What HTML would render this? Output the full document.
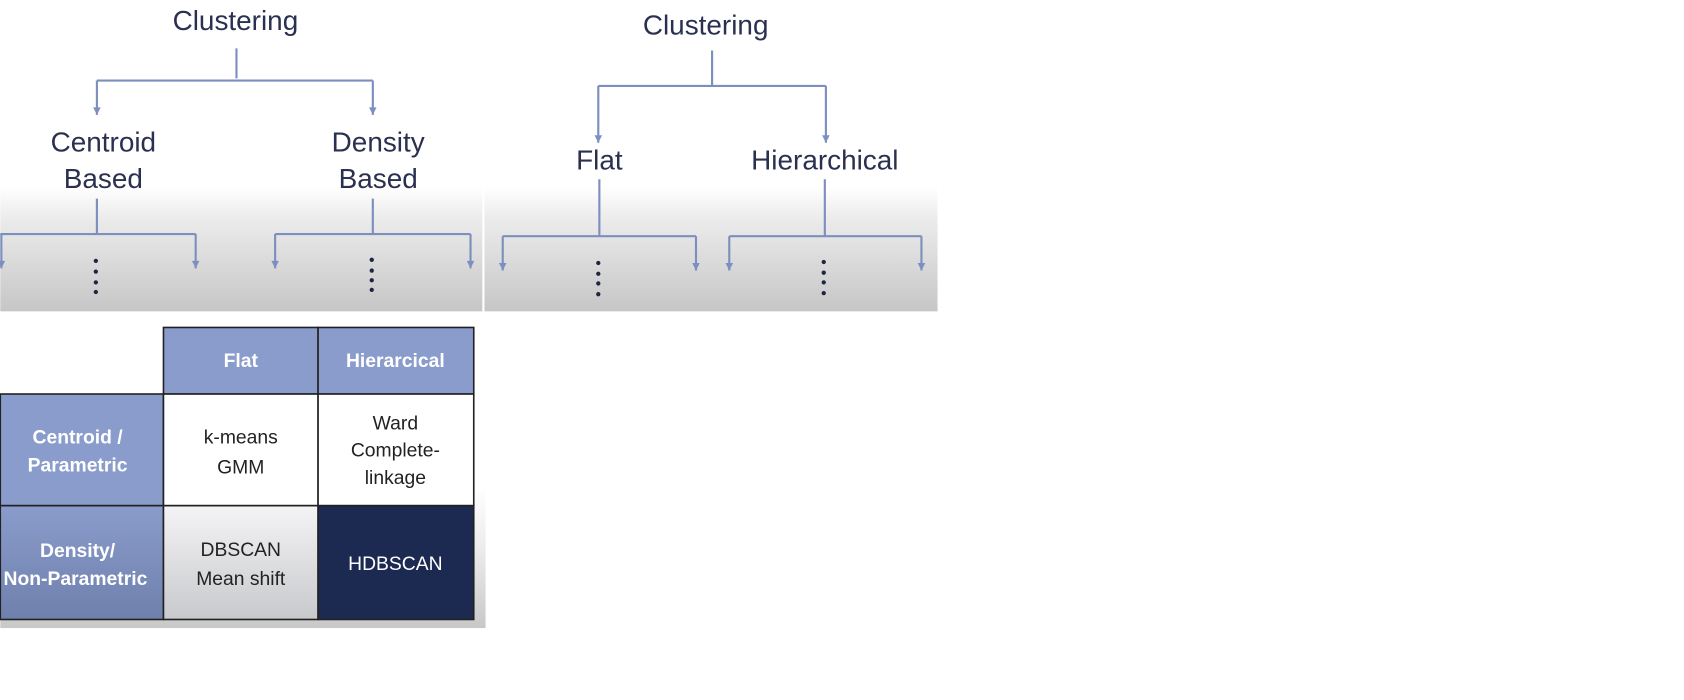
<!DOCTYPE html>
<html><head><meta charset="utf-8"><style>
html,body{margin:0;padding:0;background:#fff;width:1684px;height:700px;overflow:hidden}
svg{display:block}
text{font-family:"Liberation Sans",sans-serif}
</style></head><body>
<svg width="1684" height="700" viewBox="0 0 1568 652" xmlns="http://www.w3.org/2000/svg">
<defs>
<linearGradient id="g1" x1="0" y1="0" x2="0" y2="1">
<stop offset="0" stop-color="#fff"/><stop offset="0.6" stop-color="#fff"/><stop offset="0.7" stop-color="#ececec"/><stop offset="1" stop-color="#c6c6c6"/>
</linearGradient>
<linearGradient id="g2" x1="0" y1="0" x2="0" y2="1">
<stop offset="0" stop-color="#fff"/><stop offset="0.55" stop-color="#fff"/><stop offset="0.75" stop-color="#ececec"/><stop offset="1" stop-color="#c8c8c8"/>
</linearGradient>
<linearGradient id="g3" x1="0" y1="0" x2="0" y2="1">
<stop offset="0" stop-color="#f4f4f6"/><stop offset="1" stop-color="#c8c9cc"/>
</linearGradient>
<linearGradient id="g4" x1="0" y1="0" x2="0" y2="1">
<stop offset="0" stop-color="#8a9ccb"/><stop offset="1" stop-color="#6f80ad"/>
</linearGradient>
<marker id="a" viewBox="0 0 10 10" refX="10" refY="5" markerWidth="8" markerHeight="7" orient="auto" markerUnits="userSpaceOnUse">
<path d="M0,0 L10,5 L0,10 z" fill="#7d8fbe"/></marker>
</defs>
<rect x="0" y="0" width="449" height="290" fill="url(#g1)"/>
<rect x="451" y="0" width="422" height="290" fill="url(#g1)"/>
<rect x="0" y="291" width="452" height="294" fill="url(#g2)"/>
<g stroke="#7d8fbe" stroke-width="2" fill="none">
<path d="M220,45V73M90,75H347"/>
<path d="M90,75V107" marker-end="url(#a)"/><path d="M347,75V107" marker-end="url(#a)"/>
<path d="M90,185V218M0,218H182M256,218H438M347,185V218"/>
<path d="M1,218V250" marker-end="url(#a)"/><path d="M182,218V250" marker-end="url(#a)"/>
<path d="M256,218V250" marker-end="url(#a)"/><path d="M438,218V250" marker-end="url(#a)"/>
<path d="M663,47V79M557,80H769"/>
<path d="M557,80V133" marker-end="url(#a)"/><path d="M769,80V133" marker-end="url(#a)"/>
<path d="M558,167V220M468,220H648M768,167V220M679,220H858"/>
<path d="M468,220V252" marker-end="url(#a)"/><path d="M648,220V252" marker-end="url(#a)"/>
<path d="M679,220V252" marker-end="url(#a)"/><path d="M858,220V252" marker-end="url(#a)"/>
</g>
<g fill="#1f2540">
<circle cx="89" cy="243" r="2"/><circle cx="89" cy="253" r="2"/><circle cx="89" cy="263" r="2"/><circle cx="89" cy="272" r="2"/>
<circle cx="346" cy="242" r="2"/><circle cx="346" cy="252" r="2"/><circle cx="346" cy="261" r="2"/><circle cx="346" cy="270" r="2"/>
<circle cx="557" cy="245" r="2"/><circle cx="557" cy="255" r="2"/><circle cx="557" cy="264" r="2"/><circle cx="557" cy="274" r="2"/>
<circle cx="767" cy="244" r="2"/><circle cx="767" cy="254" r="2"/><circle cx="767" cy="263" r="2"/><circle cx="767" cy="273" r="2"/>
</g>
<g fill="#2a3050" font-size="26" text-anchor="middle">
<text x="219" y="28">Clustering</text>
<text x="657" y="32">Clustering</text>
<text x="96" y="141">Centroid</text><text x="96" y="175">Based</text>
<text x="352" y="141">Density</text><text x="352" y="175">Based</text>
<text x="558" y="158">Flat</text><text x="768" y="158">Hierarchical</text>
</g>
<rect x="152" y="305" width="144" height="62" fill="#8a9ccb" stroke="#222" stroke-width="1.5"/>
<rect x="296" y="305" width="145" height="62" fill="#8a9ccb" stroke="#222" stroke-width="1.5"/>
<rect x="0" y="367" width="152" height="104" fill="#8a9ccb" stroke="#222" stroke-width="1.5"/>
<rect x="0" y="471" width="152" height="106" fill="url(#g4)" stroke="#222" stroke-width="1.5"/>
<rect x="152" y="367" width="144" height="104" fill="#fff" stroke="#222" stroke-width="1.5"/>
<rect x="296" y="367" width="145" height="104" fill="#fff" stroke="#222" stroke-width="1.5"/>
<rect x="152" y="471" width="144" height="106" fill="url(#g3)" stroke="#222" stroke-width="1.5"/>
<rect x="296" y="471" width="145" height="106" fill="#1c2a52" stroke="#222" stroke-width="1.5"/>
<g fill="#fff" font-weight="bold" font-size="18" text-anchor="middle">
<text x="224" y="342">Flat</text><text x="368" y="342">Hierarcical</text>
<text x="72" y="413">Centroid /</text><text x="72" y="439">Parametric</text>
<text x="72" y="519">Density/</text><text x="70" y="545">Non-Parametric</text>
</g>
<g fill="#222" font-size="18" text-anchor="middle">
<text x="224" y="413">k-means</text><text x="224" y="441">GMM</text>
<text x="368" y="400">Ward</text><text x="368" y="425">Complete-</text><text x="368" y="451">linkage</text>
<text x="224" y="518">DBSCAN</text><text x="224" y="545">Mean shift</text>
</g>
<text x="368" y="531" fill="#fff" font-size="18" text-anchor="middle">HDBSCAN</text>
</svg>
</body></html>
